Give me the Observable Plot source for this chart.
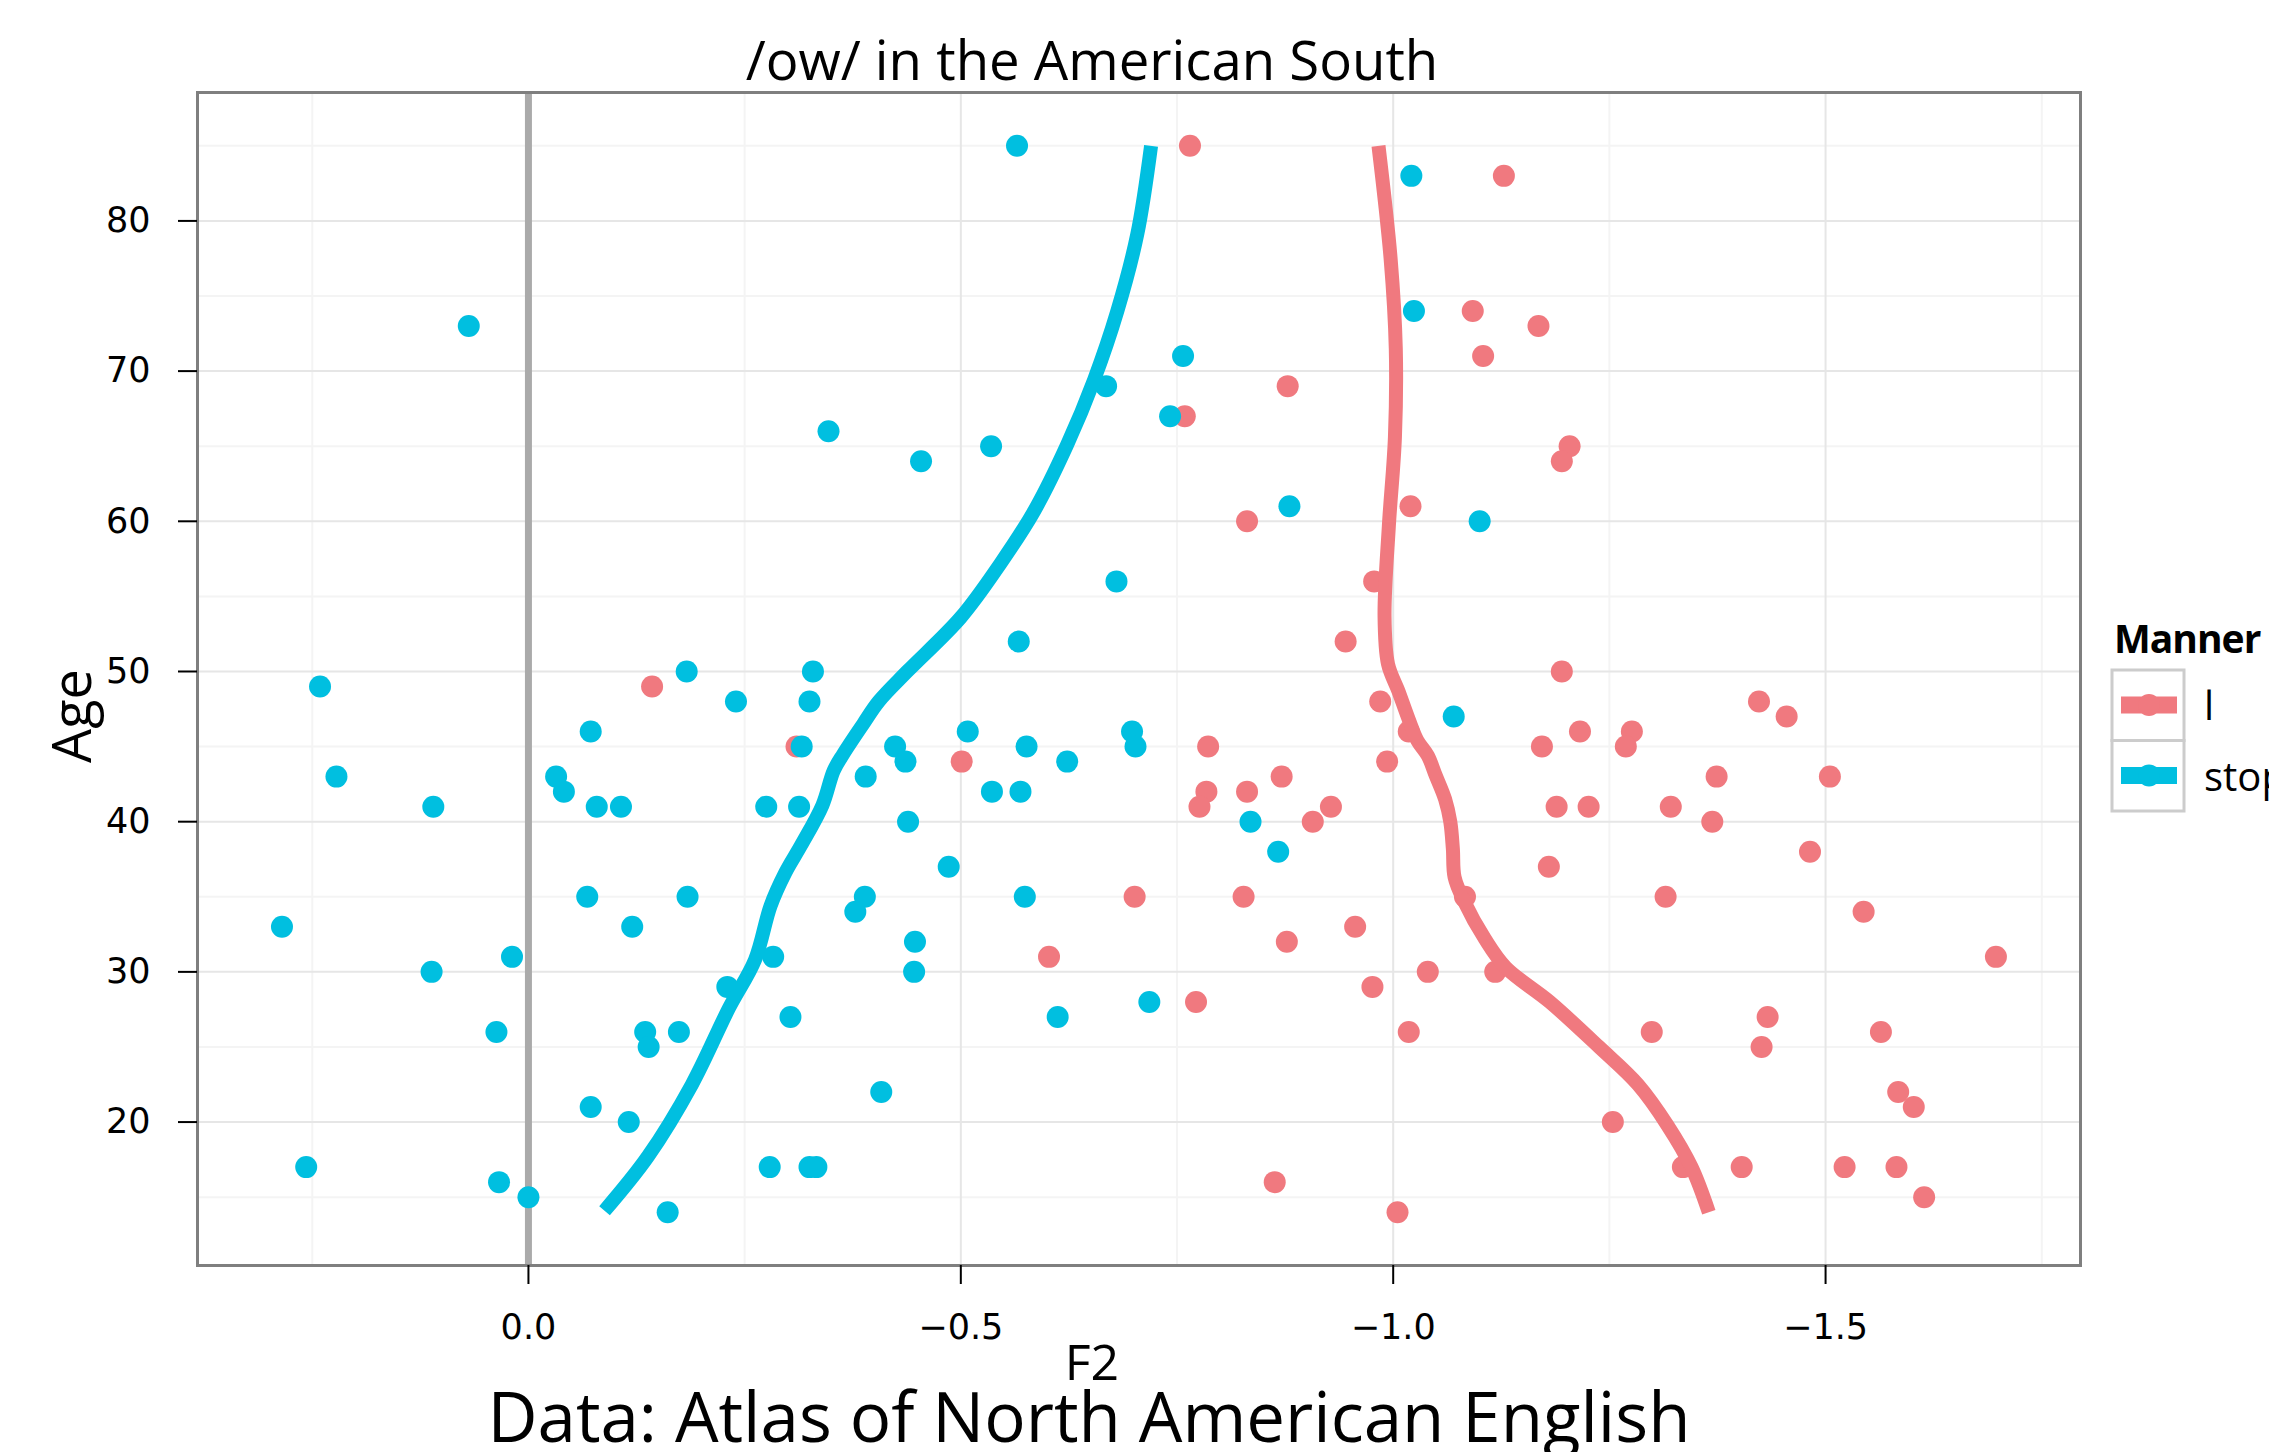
<!DOCTYPE html>
<html><head><meta charset="utf-8">
<script src="https://cdn.jsdelivr.net/npm/d3@7"></script>
<script src="https://cdn.jsdelivr.net/npm/@observablehq/plot@0.6"></script>
<style>
html,body{margin:0;padding:0;background:#fff;overflow:hidden;}
#wrap{position:relative;width:2269px;height:1452px;overflow:hidden;font-family:"Open Sans",sans-serif;color:#000;}
#chart{position:absolute;left:0;top:0;}
.t{position:absolute;white-space:nowrap;line-height:1;}
</style></head>
<body><div id="wrap"></div>
<script>
// ---- data: Manner = "l"
const lF2  = [-0.765,-1.128,-1.092,-1.168,-1.104,-0.878,-0.759,-1.204,-1.195,-1.020,-0.831,-0.978,-0.945,-1.195,-0.143,-0.985,-1.423,-1.455,-1.018,-1.216,-1.276,-0.310,-0.786,-1.172,-1.269,-0.501,-0.993,-0.871,-1.374,-1.505,-0.784,-0.831,-0.776,-0.928,-1.189,-1.226,-1.321,-0.907,-1.369,-1.482,-1.180,-0.701,-0.827,-1.083,-1.315,-1.544,-0.956,-0.877,-0.602,-1.697,-1.040,-1.118,-0.976,-0.772,-1.433,-1.018,-1.299,-1.564,-1.426,-1.584,-1.602,-1.254,-1.335,-1.403,-1.522,-1.582,-0.863,-1.614,-1.005];
const lAge = [85,83,74,73,71,69,67,65,64,61,60,56,52,50,49,48,48,47,46,46,46,45,45,45,45,44,44,43,43,43,42,42,41,41,41,41,41,40,40,38,37,35,35,35,35,34,33,32,31,31,30,30,29,28,27,26,26,26,25,22,21,20,17,17,17,17,16,15,14];
// ---- data: Manner = "stop"
const stopF2  = [-0.565,-1.021,-1.024,0.069,-0.757,-0.668,-0.742,-0.347,-0.535,-0.454,-0.880,-1.100,-0.680,-0.567,-0.183,-0.329,0.241,-0.240,-0.325,-1.070,-0.072,-0.508,-0.698,-0.316,-0.424,-0.576,-0.702,-0.436,-0.623,0.222,-0.032,-0.390,-0.041,-0.536,-0.569,0.110,-0.079,-0.107,-0.275,-0.313,-0.439,-0.835,-0.867,-0.486,-0.068,-0.184,-0.389,-0.574,-0.378,0.285,-0.120,-0.447,0.019,-0.283,0.112,-0.446,-0.230,-0.718,-0.303,-0.612,0.037,-0.135,-0.174,-0.139,-0.408,-0.072,-0.116,0.257,-0.279,-0.325,-0.333,0.034,0.000,-0.161];
const stopAge = [85,83,74,73,71,69,67,66,65,64,61,60,56,52,50,50,49,48,48,47,46,46,46,45,45,45,45,44,44,43,43,43,42,42,42,41,41,41,41,41,40,40,38,37,35,35,35,35,34,33,33,32,31,31,30,30,29,28,27,27,26,26,26,25,22,21,20,17,17,17,17,16,15,14];
// ---- smoothed trend lines
const lSmoothAge = [14.0,17.0,19.8,22.5,25.0,28.0,30.3,32.2,34.7,36.3,38.2,40.0,41.5,43.1,44.4,45.4,46.8,48.7,50.5,53.7,59.7,65.6,71.5,77.5,85.0];
const lSmoothF2  = [-1.365,-1.345,-1.317,-1.283,-1.238,-1.181,-1.130,-1.106,-1.082,-1.071,-1.069,-1.066,-1.060,-1.049,-1.040,-1.028,-1.018,-1.006,-0.994,-0.990,-0.995,-1.002,-1.003,-0.997,-0.983];
const stopSmoothAge = [14.1,17.7,22.5,27.6,30.8,34.4,36.6,38.4,41.1,43.4,44.5,46.5,48.0,50.0,53.6,57.2,60.7,65.1,69.4,74.0,79.1,85.0];
const stopSmoothF2  = [-0.088,-0.138,-0.189,-0.232,-0.262,-0.280,-0.297,-0.315,-0.340,-0.353,-0.364,-0.387,-0.405,-0.438,-0.500,-0.546,-0.585,-0.623,-0.654,-0.681,-0.704,-0.720];
// ---- ticks / grid
const xMajor = [0, -0.5, -1.0, -1.5];
const xMinor = [0.25, -0.25, -0.75, -1.25, -1.75];
const yMajor = [20, 30, 40, 50, 60, 70, 80];
const yMinor = [15, 25, 35, 45, 55, 65, 75, 85];
const mannerNames = ["l", "stop"];
const mannerColors = ["#F0797F", "#00BFE0"];

const toRows = (xs, ys) => xs.map((x, i) => ({F2: x, Age: ys[i]}));
const lPts = toRows(lF2, lAge), stopPts = toRows(stopF2, stopAge);
const lLine = toRows(lSmoothF2, lSmoothAge), stopLine = toRows(stopSmoothF2, stopSmoothAge);

const plot = Plot.plot({
  width: 2269, height: 1380,
  marginTop: 92, marginLeft: 197, marginRight: 189, marginBottom: 115,
  x: {domain: [0.3827, -1.7948], label: null},
  y: {domain: [10.45, 88.55], label: null},
  style: {fontFamily: "DejaVu Sans", fontSize: "35px", color: "#000", background: "transparent", overflow: "visible"},
  marks: [
    Plot.ruleX(xMinor, {stroke: "#f4f4f4", strokeWidth: 2}),
    Plot.ruleY(yMinor, {stroke: "#f4f4f4", strokeWidth: 2}),
    Plot.ruleX(xMajor, {stroke: "#e6e6e6", strokeWidth: 2}),
    Plot.ruleY(yMajor, {stroke: "#e6e6e6", strokeWidth: 2}),
    Plot.ruleX([0], {stroke: "#aaaaaa", strokeWidth: 7}),
    Plot.dot(lPts, {x: "F2", y: "Age", r: 11, fill: mannerColors[0], stroke: "none"}),
    Plot.dot(stopPts, {x: "F2", y: "Age", r: 11, fill: mannerColors[1], stroke: "none"}),
    Plot.line(lLine, {x: "F2", y: "Age", stroke: mannerColors[0], strokeWidth: 14, curve: "catmull-rom", strokeLinecap: "butt"}),
    Plot.line(stopLine, {x: "F2", y: "Age", stroke: mannerColors[1], strokeWidth: 14, curve: "catmull-rom", strokeLinecap: "butt"}),
    Plot.frame({stroke: "#7f7f7f", strokeWidth: 3}),
    Plot.axisX({ticks: xMajor, tickSize: 19, tickPadding: 30, tickFormat: d3.format(".1f"), label: null, strokeWidth: 2, fill: "#000"}),
    Plot.axisY({ticks: yMajor, tickSize: 19, tickPadding: 28, label: null, strokeWidth: 2, fill: "#000"})
  ]
});
plot.id = "chart";
const wrap = document.getElementById("wrap");
wrap.appendChild(plot);

function addText(txt, css) {
  const d = document.createElement("div");
  d.className = "t";
  d.textContent = txt;
  Object.assign(d.style, css);
  wrap.appendChild(d);
  return d;
}
// subtitle
addText("/ow/ in the American South", {left: "0px", width: "2184px", textAlign: "center", top: "32px", fontSize: "54.5px"});
// axis titles
addText("F2", {left: "0px", width: "2184px", textAlign: "center", top: "1336px", fontSize: "50px"});
addText("Age", {left: "70px", top: "716px", fontSize: "54px", transform: "translate(-50%,-50%) rotate(-90deg)"});
// caption
addText("Data: Atlas of North American English", {left: "0px", width: "2178px", textAlign: "center", top: "1381px", fontSize: "69px"});
// legend
addText("Manner", {left: "2114px", top: "618px", fontSize: "39px", fontWeight: "700", letterSpacing: "-1px"});
const ns = "http://www.w3.org/2000/svg";
const lg = document.createElementNS(ns, "svg");
lg.setAttribute("width", "80"); lg.setAttribute("height", "146");
lg.style.position = "absolute"; lg.style.left = "2110px"; lg.style.top = "668px";
mannerNames.forEach((name, i) => {
  const y0 = 2 + i * 70.5;
  const r = document.createElementNS(ns, "rect");
  r.setAttribute("x", 2); r.setAttribute("y", y0); r.setAttribute("width", 72); r.setAttribute("height", 70.5);
  r.setAttribute("fill", "#fff"); r.setAttribute("stroke", "#cccccc"); r.setAttribute("stroke-width", 3);
  lg.appendChild(r);
  const ln = document.createElementNS(ns, "line");
  ln.setAttribute("x1", 11); ln.setAttribute("x2", 67); ln.setAttribute("y1", y0 + 35); ln.setAttribute("y2", y0 + 35);
  ln.setAttribute("stroke", mannerColors[i]); ln.setAttribute("stroke-width", 17);
  lg.appendChild(ln);
  const c = document.createElementNS(ns, "circle");
  c.setAttribute("cx", 39); c.setAttribute("cy", y0 + 35); c.setAttribute("r", 11);
  c.setAttribute("fill", mannerColors[i]);
  lg.appendChild(c);
  addText(name, {left: "2204px", top: (668 + y0 + 35 - 20) + "px", fontSize: "40px"});
});
wrap.appendChild(lg);
</script>
</body></html>
